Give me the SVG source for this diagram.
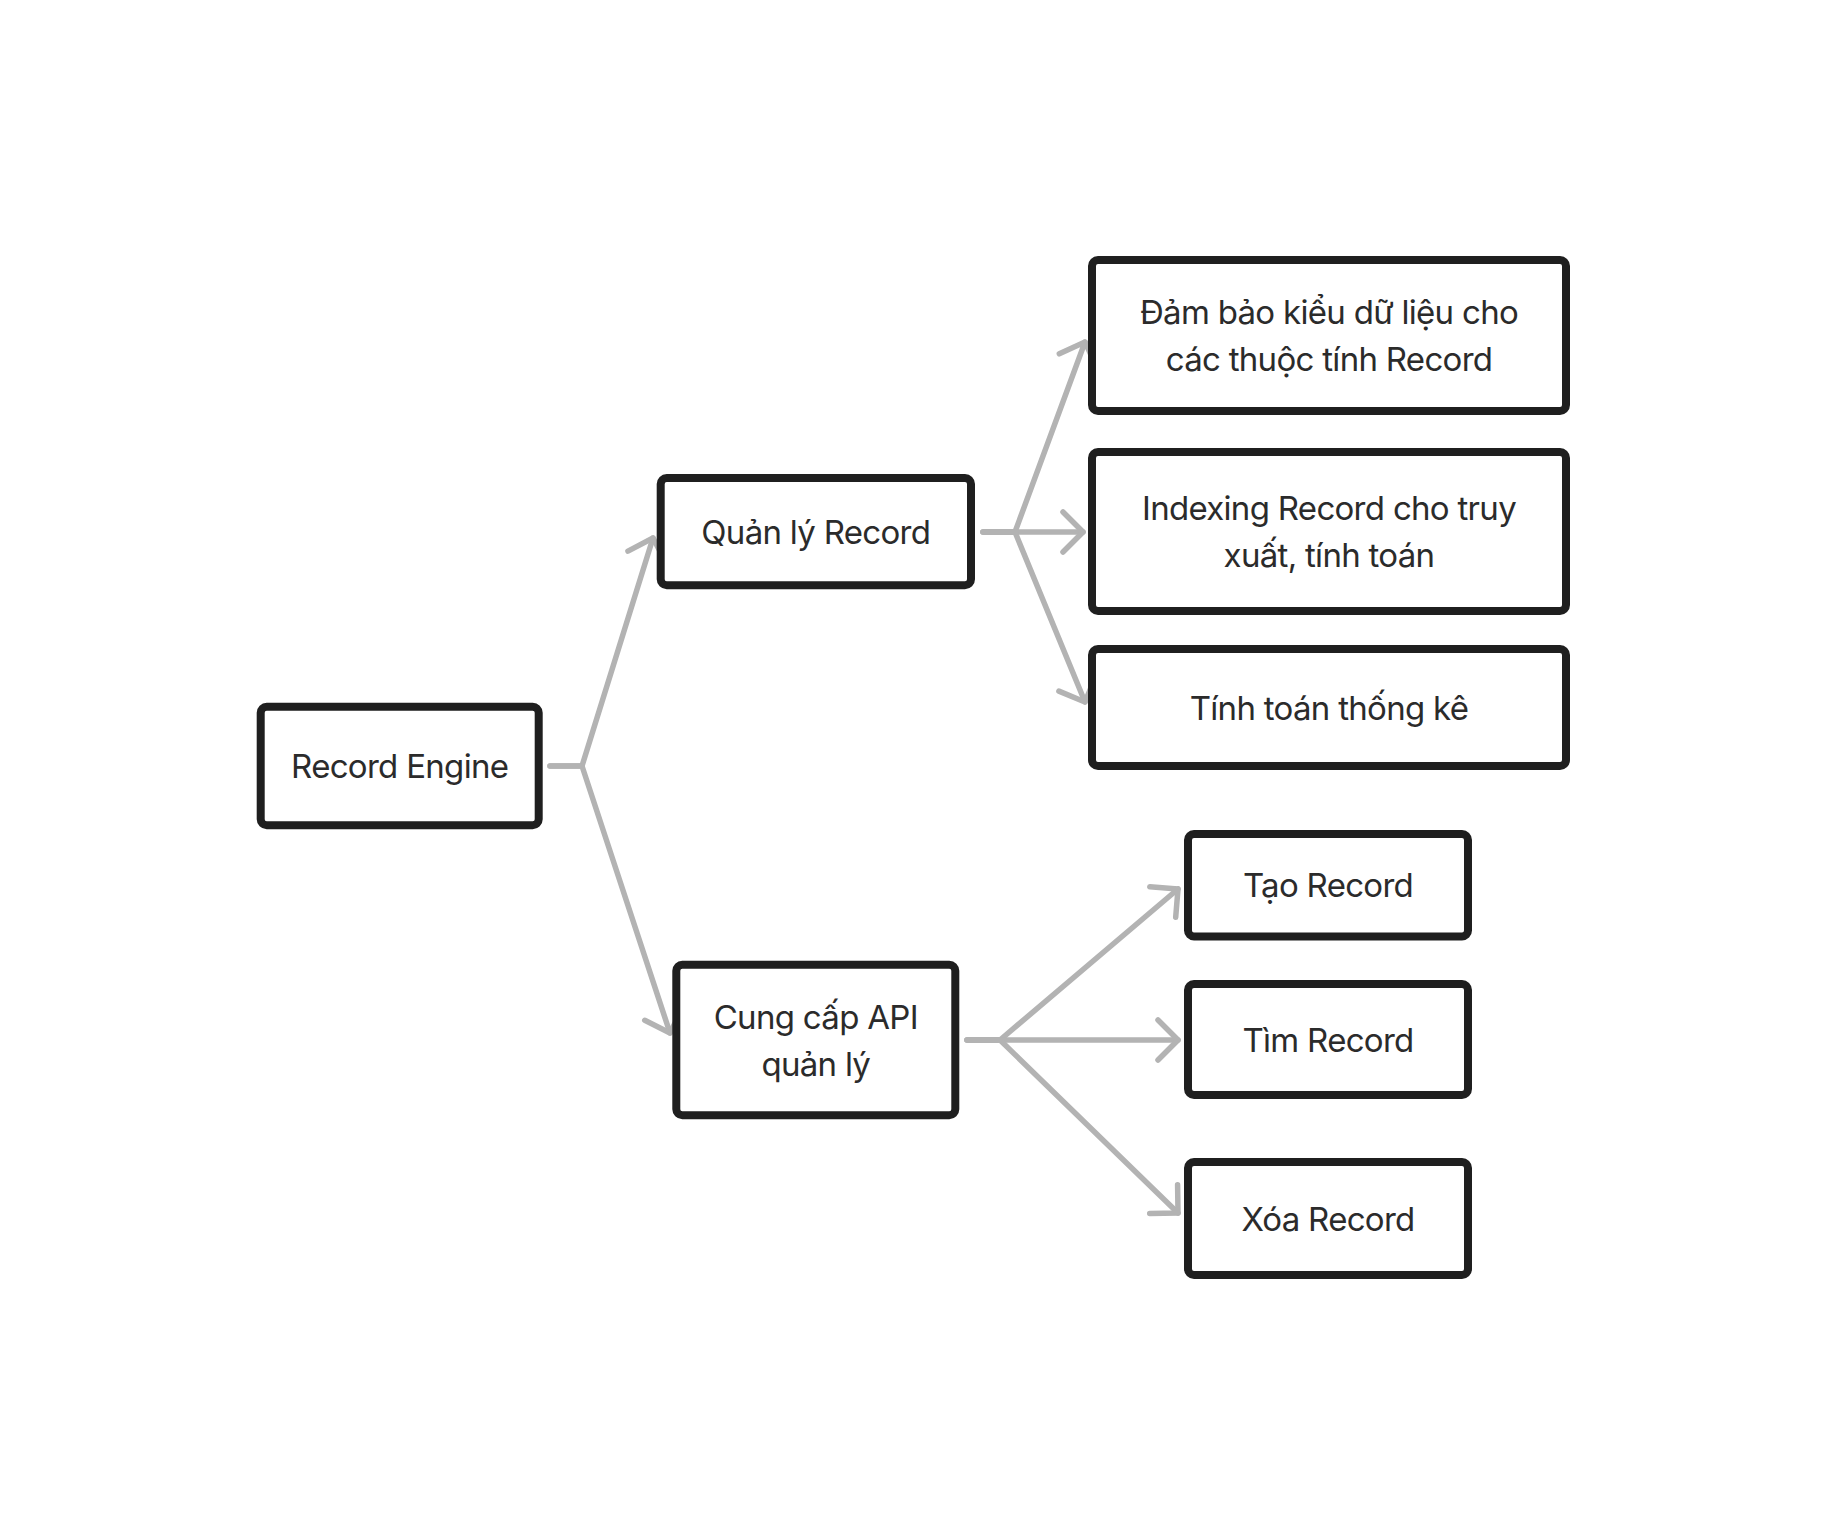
<svg xmlns="http://www.w3.org/2000/svg" width="1824" height="1536" viewBox="0 0 1824 1536">
<style>
.box{fill:#ffffff;stroke:#1f1f1f;stroke-width:8}
.lbl{font-family:Inter,"Noto Sans","Liberation Sans",sans-serif;font-size:33px;letter-spacing:-0.7px;fill:#2b2b2b;text-anchor:middle}
.conn{fill:none;stroke:#b3b3b3;stroke-width:5.5;stroke-linecap:round;stroke-linejoin:round}
</style>
<defs>
<marker id="arr" markerUnits="userSpaceOnUse" viewBox="-25 -25 30 50" refX="0" refY="0" markerWidth="30" markerHeight="50" orient="auto" overflow="visible">
<path d="M-20,-20 L0,0 L-20,20" fill="none" stroke="#b3b3b3" stroke-width="5.5" stroke-linecap="round" stroke-linejoin="round"/>
</marker>
</defs>
<rect width="1824" height="1536" fill="#ffffff"/>
<g id="connectors">
<path class="conn" d="M550,766 L582,766 L653,538" marker-end="url(#arr)"/>
<path class="conn" d="M550,766 L582,766 L670,1033" marker-end="url(#arr)"/>
<path class="conn" d="M983,532 L1015,532 L1085,342" marker-end="url(#arr)"/>
<path class="conn" d="M983,532 L1015,532 L1083,532" marker-end="url(#arr)"/>
<path class="conn" d="M983,532 L1015,532 L1085,702" marker-end="url(#arr)"/>
<path class="conn" d="M967,1040 L1000,1040 L1178,889" marker-end="url(#arr)"/>
<path class="conn" d="M967,1040 L1000,1040 L1178,1040" marker-end="url(#arr)"/>
<path class="conn" d="M967,1040 L1000,1040 L1178,1213" marker-end="url(#arr)"/>
</g>
<g id="node-record-engine">
<rect class="box" x="260.7" y="706.7" width="278" height="118.6" rx="6"/>
<text class="lbl" x="399.7" y="778">Record Engine</text>
</g>
<g id="node-quan-ly-record">
<rect class="box" x="660.7" y="478" width="310.3" height="107.3" rx="6"/>
<text class="lbl" x="815.8" y="543.7">Quản lý Record</text>
</g>
<g id="node-cung-cap-api">
<rect class="box" x="676.3" y="964.7" width="279" height="150.6" rx="6"/>
<text class="lbl" x="815.8" y="1028.5">Cung cấp API</text>
<text class="lbl" x="815.8" y="1075.5">quản lý</text>
</g>
<g id="node-dam-bao">
<rect class="box" x="1092" y="260" width="474" height="151" rx="6"/>
<text class="lbl" x="1329" y="324">Đảm bảo kiểu dữ liệu cho</text>
<text class="lbl" x="1329" y="371">các thuộc tính Record</text>
</g>
<g id="node-indexing">
<rect class="box" x="1092" y="452" width="474" height="159" rx="6"/>
<text class="lbl" x="1329" y="520">Indexing Record cho truy</text>
<text class="lbl" x="1329" y="567">xuất, tính toán</text>
</g>
<g id="node-tinh-toan">
<rect class="box" x="1092" y="649" width="474" height="117" rx="6"/>
<text class="lbl" x="1329" y="719.5">Tính toán thống kê</text>
</g>
<g id="node-tao">
<rect class="box" x="1188" y="834" width="280" height="102.5" rx="6"/>
<text class="lbl" x="1328" y="897">Tạo Record</text>
</g>
<g id="node-tim">
<rect class="box" x="1188" y="984" width="280" height="111" rx="6"/>
<text class="lbl" x="1328" y="1051.5">Tìm Record</text>
</g>
<g id="node-xoa">
<rect class="box" x="1188" y="1162" width="280" height="113" rx="6"/>
<text class="lbl" x="1328" y="1230.5">Xóa Record</text>
</g>
</svg>
